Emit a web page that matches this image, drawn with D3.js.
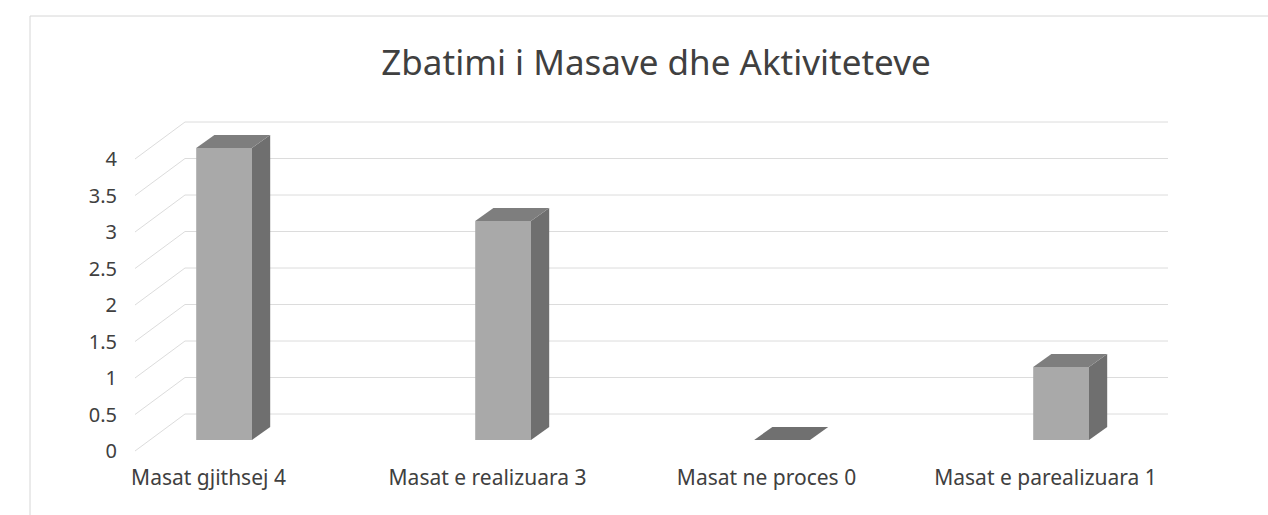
<!DOCTYPE html>
<html>
<head>
<meta charset="utf-8">
<script src="https://cdn.jsdelivr.net/npm/d3@7"></script>
<style>
  body { margin: 0; background: #fff; }
  text { font-family: "Noto Sans", "Open Sans", sans-serif; fill: #404040; }
</style>
</head>
<body>
<div id="chart"></div>
<script>
var categories = ["Masat gjithsej 4", "Masat e realizuara 3", "Masat ne proces 0", "Masat e parealizuara 1"];
var values = [4, 3, 0, 1];
var yTicks = [0, 0.5, 1, 1.5, 2, 2.5, 3, 3.5, 4];
var yTickLabels = ["0", "0.5", "1", "1.5", "2", "2.5", "3", "3.5", "4"];
var title = "Zbatimi i Masave dhe Aktiviteteve";

var W = 1268, H = 515;
// fake 3d: depth vector going back-right
var depthX = 52, depthY = 37;
var barF0 = 0.3, barF1 = 0.65;

var svg = d3.select("#chart")
  .append("svg")
  .attr("width", W)
  .attr("height", H);

// chart border
svg.append("path")
  .attr("d", "M30,515 L30,16 L1268,16")
  .attr("fill", "none")
  .attr("stroke", "#d6d6d6")
  .attr("stroke-width", 1);

var y = d3.scaleLinear()
  .domain([0, 4])
  .range([451, 159]);

var x = d3.scaleBand()
  .domain(categories)
  .range([69, 1185])
  .paddingInner(0.8)
  .paddingOuter(0.4);

var wallLeft = 133, wallRight = 1168;

var proj = function(px, v, f) {
  return [px + depthX * f, y(v) - depthY * f];
};

// back wall gridlines
svg.append("g")
  .selectAll("line")
  .data(yTicks)
  .join("line")
  .attr("x1", wallLeft + depthX)
  .attr("x2", wallRight)
  .attr("y1", function(d) { return proj(0, d, 1)[1]; })
  .attr("y2", function(d) { return proj(0, d, 1)[1]; })
  .attr("stroke", "#dcdcdc")
  .attr("stroke-width", 1);

// side wall gridlines
svg.append("g")
  .selectAll("line")
  .data(yTicks)
  .join("line")
  .attr("x1", wallLeft + 2)
  .attr("y1", function(d) { return proj(0, d, 0)[1]; })
  .attr("x2", wallLeft + depthX)
  .attr("y2", function(d) { return proj(0, d, 1)[1]; })
  .attr("stroke", "#dcdcdc")
  .attr("stroke-width", 1);

// y labels
svg.append("g")
  .selectAll("text")
  .data(yTicks)
  .join("text")
  .attr("x", 117)
  .attr("y", function(d) { return y(d) + 7; })
  .attr("text-anchor", "end")
  .style("font-size", "20px")
  .text(function(d, i) { return yTickLabels[i]; });

// bars
var bars = svg.append("g")
  .selectAll("g")
  .data(categories)
  .join("g");

var pts = function(arr) {
  return arr.map(function(p) { return p.join(","); }).join(" ");
};

bars.each(function(c, i) {
  var g = d3.select(this);
  var v = values[i];
  var x0 = x(c), x1 = x(c) + x.bandwidth();
  var a = proj(x0, v, barF0), b = proj(x1, v, barF0);
  var a0 = proj(x0, 0, barF0), b0 = proj(x1, 0, barF0);
  var bb = proj(x1, v, barF1), ab = proj(x0, v, barF1), bb0 = proj(x1, 0, barF1);

  if (v > 0) {
    g.append("polygon")
      .attr("points", pts([a, b, b0, a0]))
      .attr("fill", "#a9a9a9");
    g.append("polygon")
      .attr("points", pts([b, bb, bb0, b0]))
      .attr("fill", "#6f6f6f");
  }
  g.append("polygon")
    .attr("points", pts([a, ab, bb, b]))
    .attr("fill", v > 0 ? "#7e7e7e" : "#707070");
});

// category labels
svg.append("g")
  .selectAll("text")
  .data(categories)
  .join("text")
  .attr("x", function(d) { return x(d) + x.bandwidth() / 2; })
  .attr("y", 485)
  .attr("text-anchor", "middle")
  .style("font-size", "21px")
  .text(function(d) { return d; });

// title
svg.append("text")
  .attr("x", 656)
  .attr("y", 75)
  .attr("text-anchor", "middle")
  .style("font-size", "35px")
  .text(title);
</script>
</body>
</html>
